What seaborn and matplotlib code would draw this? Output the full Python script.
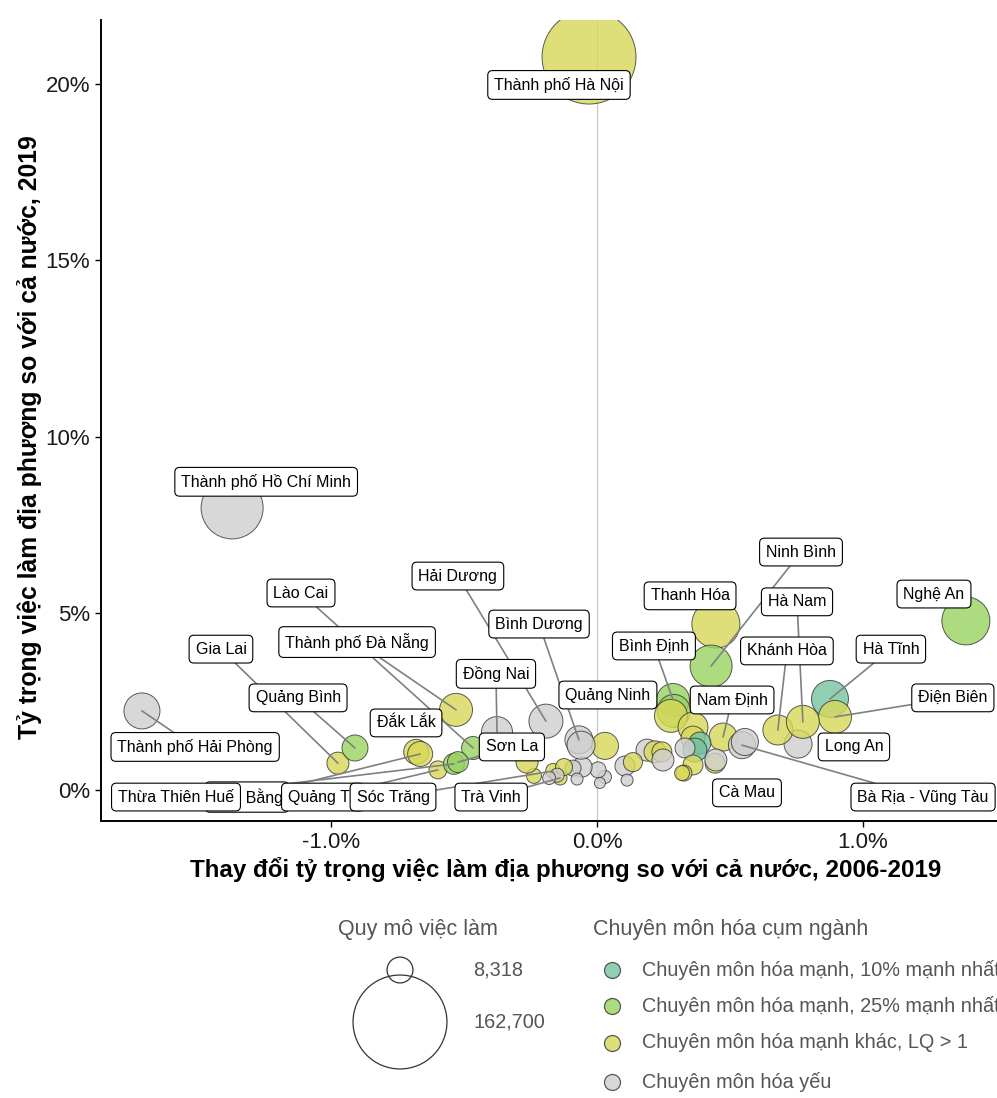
import numpy as np
import pandas as pd
import matplotlib
matplotlib.use("Agg")
import matplotlib.pyplot as plt
import seaborn as sns
from matplotlib.ticker import FixedLocator, FuncFormatter

sns.set_theme(style="white")
plt.rcParams["font.family"] = ["Liberation Sans", "DejaVu Sans"]

# ---- categories -------------------------------------------------------------
TOP10 = "Chuyên môn hóa mạnh, 10% mạnh nhất"
TOP25 = "Chuyên môn hóa mạnh, 25% mạnh nhất"
OTHER = "Chuyên môn hóa mạnh khác, LQ > 1"
WEAK = "Chuyên môn hóa yếu"
spec_order = [TOP10, TOP25, OTHER, WEAK]

# ---- data: one entry per province (unnamed entries are not labelled) --------
provinces = [
    "Thành phố Hà Nội", "Thành phố Hồ Chí Minh", "Thành phố Hải Phòng", "Nghệ An",
    "Thanh Hóa", "Ninh Bình", "Bình Định", "Nam Định", "Bà Rịa - Vũng Tàu", "Cà Mau",
    "Hà Tĩnh", "Điện Biên", "Long An", "Khánh Hòa", "Hà Nam", "Quảng Ninh",
    "Bình Dương", "Hải Dương", "Đồng Nai", "Thành phố Đà Nẵng", "Lào Cai", "Gia Lai",
    "Quảng Bình", "Đắk Lắk", "Cao Bằng", "Quảng Trị", "Thừa Thiên Huế", "Sơn La",
    "Sóc Trăng", "Trà Vinh",
    "", "", "", "", "", "", "", "", "", "", "", "", "", "", "", "",
    "", "", "", "", "", "", "", "", "", "", "", "", "", "", "",
]
# change in local share of national employment 2006-2019 (percentage points)
share_change = [
    -0.030, -1.372, -1.711, 1.387, 0.447, 0.429, 0.286, 0.474, 0.545, 0.444,
    0.876, 0.895, 0.756, 0.680, 0.774, 0.030, -0.068, -0.192, -0.376, -0.530,
    -0.466, -0.974, -0.910, -0.680, -0.665, -0.598, -0.538, -0.523, -0.165, -0.139,
    0.289, 0.278, 0.361, 0.361, 0.387, 0.368, 0.331, 0.361, 0.327, 0.320,
    0.447, 0.188, 0.218, 0.244, 0.248, 0.105, 0.135, 0.113, 0.030, 0.004,
    0.011, -0.056, -0.090, -0.075, -0.124, -0.150, -0.237, -0.263, -0.180, 0.556,
    -0.060,
]
# local share of national employment in 2019 (%)
share_2019 = [
    20.76, 7.99, 2.24, 4.79, 4.70, 3.51, 2.55, 1.50, 1.27, 0.76,
    2.58, 2.07, 1.30, 1.70, 1.93, 1.25, 1.42, 1.95, 1.64, 2.27,
    1.19, 0.76, 1.19, 1.08, 1.02, 0.57, 0.74, 0.79, 0.54, 0.34,
    2.24, 2.10, 1.78, 1.47, 1.33, 1.13, 1.19, 0.71, 0.48, 0.48,
    0.85, 1.13, 1.08, 1.08, 0.85, 0.68, 0.79, 0.28, 0.37, 0.57,
    0.20, 0.65, 0.62, 0.31, 0.65, 0.42, 0.40, 0.79, 0.34, 1.36,
    1.27,
]
# cluster employment
employment = [
    162700, 66000, 18900, 37100, 37100, 27300, 15300, 10200, 9300, 4100,
    20200, 15300, 10200, 12100, 15300, 9300, 10200, 16500, 13150, 15300,
    6100, 5400, 8400, 7600, 7600, 3000, 4700, 4700, 1700, 1350,
    15300, 15300, 12100, 6800, 5400, 6800, 4100, 4100, 2100, 1700,
    5400, 5400, 5400, 4100, 5400, 4100, 3600, 760, 1030, 2100,
    530, 4100, 2100, 760, 2550, 1350, 1700, 5400, 1030, 9300,
    10200,
]
specialisation = [
    OTHER, WEAK, WEAK, TOP25, OTHER, TOP25, TOP25, OTHER, WEAK, OTHER,
    TOP10, OTHER, WEAK, OTHER, OTHER, OTHER, WEAK, WEAK, WEAK, OTHER,
    TOP25, OTHER, TOP25, OTHER, OTHER, OTHER, TOP25, TOP25, OTHER, OTHER,
    TOP25, OTHER, OTHER, OTHER, TOP10, TOP10, WEAK, OTHER, OTHER, OTHER,
    WEAK, WEAK, OTHER, OTHER, WEAK, WEAK, OTHER, WEAK, WEAK, WEAK,
    WEAK, WEAK, WEAK, WEAK, OTHER, WEAK, OTHER, OTHER, WEAK, WEAK,
    WEAK,
]
legend_sizes = [8318, 162700]

palette = {TOP10: "#74c39f", TOP25: "#97d260", OTHER: "#d8d859", WEAK: "#cfcfcf"}

# ---- label layout (label centre in data units) -------------------------------
label_pos = {
    "Thành phố Hà Nội": (-0.143, 19.97),
    "Thành phố Hồ Chí Minh": (-1.244, 8.73),
    "Thành phố Hải Phòng": (-1.511, 1.22),
    "Cao Bằng": (-1.316, -0.20),
    "Thừa Thiên Huế": (-1.583, -0.20),
    "Quảng Trị": (-1.030, -0.20),
    "Sóc Trăng": (-0.767, -0.20),
    "Trà Vinh": (-0.398, -0.20),
    "Lào Cai": (-1.113, 5.58),
    "Gia Lai": (-1.414, 3.99),
    "Thành phố Đà Nẵng": (-0.902, 4.19),
    "Quảng Bình": (-1.124, 2.61),
    "Đắk Lắk": (-0.718, 1.90),
    "Hải Dương": (-0.523, 6.06),
    "Bình Dương": (-0.218, 4.70),
    "Đồng Nai": (-0.380, 3.29),
    "Sơn La": (-0.320, 1.22),
    "Quảng Ninh": (0.041, 2.69),
    "Bình Định": (0.214, 4.08),
    "Thanh Hóa": (0.350, 5.50),
    "Ninh Bình": (0.767, 6.74),
    "Nam Định": (0.508, 2.55),
    "Hà Nam": (0.752, 5.33),
    "Khánh Hòa": (0.714, 3.94),
    "Nghệ An": (1.267, 5.55),
    "Hà Tĩnh": (1.105, 3.99),
    "Điện Biên": (1.338, 2.61),
    "Long An": (0.966, 1.22),
    "Cà Mau": (0.564, -0.08),
    "Bà Rịa - Vũng Tàu": (1.226, -0.20),
}
no_segment = {"Thành phố Hà Nội", "Thành phố Hồ Chí Minh", "Thanh Hóa", "Nghệ An",
              "Long An", "Cà Mau", "Quảng Ninh", "Đắk Lắk"}

DPI = 100
W, H = 997, 1098


def bubble_diameter_px(v):
    return 6.0 + 0.218 * np.sqrt(np.asarray(v, dtype=float))


def bubble_area_pt2(v):
    return (bubble_diameter_px(v) * 72.0 / DPI) ** 2


df = pd.DataFrame({
    "province": provinces,
    "change": share_change,
    "share": share_2019,
    "employment": employment,
    "spec": specialisation,
})
df["s"] = bubble_area_pt2(df["employment"])

fig = plt.figure(figsize=(W / DPI, H / DPI), dpi=DPI)
ax = fig.add_axes([101 / W, 1 - 821 / H, 1 - 101 / W, (821 - 20) / H])

ax.axvline(0, color="#c8c8c8", lw=0.9, zorder=1)

sns.scatterplot(
    data=df, x="change", y="share", hue="spec", hue_order=spec_order,
    palette=palette, size="s", sizes=(df["s"].min(), df["s"].max()),
    alpha=0.8, edgecolor="#333333", linewidth=0.7, legend=False, ax=ax, zorder=2,
)

ax.set_xlim(-1.865, 1.504)
ax.set_ylim(-0.878, 21.81)
ax.xaxis.set_major_locator(FixedLocator([-1.0, 0.0, 1.0]))
ax.yaxis.set_major_locator(FixedLocator([0, 5, 10, 15, 20]))
ax.xaxis.set_major_formatter(FuncFormatter(lambda v, p: f"{v:.1f}%"))
ax.yaxis.set_major_formatter(FuncFormatter(lambda v, p: f"{v:.0f}%"))
ax.tick_params(axis="both", which="major", direction="out", length=4, width=1,
               color="black", labelsize=16, labelcolor="#1a1a1a", pad=4,
               bottom=True, left=True)
for side in ("top", "right"):
    ax.spines[side].set_visible(False)
for side in ("left", "bottom"):
    ax.spines[side].set_color("black")
    ax.spines[side].set_linewidth(1.4)

ax.set_xlabel("Thay đổi tỷ trọng việc làm địa phương so với cả nước, 2006-2019",
              fontsize=17.4, fontweight="bold", color="black")
ax.set_ylabel("Tỷ trọng việc làm địa phương so với cả nước, 2019",
              fontsize=17.8, fontweight="bold", color="black")
ax.xaxis.set_label_coords((566 - 101) / 896, (821 - 870) / 801)
ax.xaxis.label.set_va("center")
ax.yaxis.set_label_coords((30 - 101) / 896, (821 - 437) / 801)
ax.yaxis.label.set_va("center")

# ---- repelled-style labels ---------------------------------------------------
box_style = "round,pad=0.4,rounding_size=0.3"
label_fs = 11.5
for i, (name, (lx, ly)) in enumerate(label_pos.items()):
    row = df[df["province"] == name].iloc[0]
    if name not in no_segment:
        ax.annotate(
            name, xy=(row["change"], row["share"]), xytext=(lx, ly),
            ha="center", va="center", fontsize=label_fs, color="none",
            bbox=dict(boxstyle=box_style, fc="none", ec="none"),
            arrowprops=dict(arrowstyle="-", color="#808080", lw=1.2,
                            shrinkA=0, shrinkB=0),
            zorder=3,
        )
    ax.text(lx, ly, name, ha="center", va="center", fontsize=label_fs, color="black",
            bbox=dict(boxstyle=box_style, fc="white", ec="black", lw=0.8),
            zorder=4 + i)

# ---- legends -----------------------------------------------------------------
lax = fig.add_axes([0, 0, 1, 1])
lax.set_xlim(0, W)
lax.set_ylim(H, 0)
lax.axis("off")

legend_grey = "#555555"
lax.text(338, 930, "Quy mô việc làm", fontsize=15.5, color=legend_grey, va="center")
for v, yy in zip(legend_sizes, [970, 1022]):
    lax.scatter([400], [yy], s=bubble_area_pt2(v), facecolor="none",
                edgecolor="#333333", linewidth=0.9)
    lax.text(473, yy, f"{v:,}", fontsize=14.3, color=legend_grey, va="center")

lax.text(593, 930, "Chuyên môn hóa cụm ngành", fontsize=15.5, color=legend_grey,
         va="center")
for cat, yy in zip(spec_order, [970, 1006, 1043, 1082]):
    lax.scatter([612], [yy], s=(16 * 72 / DPI) ** 2, color=palette[cat], alpha=0.8,
                edgecolor="#333333", linewidth=0.9)
    lax.text(642, yy, cat, fontsize=14.3, color=legend_grey, va="center")

fig.savefig("out.png", dpi=DPI)
